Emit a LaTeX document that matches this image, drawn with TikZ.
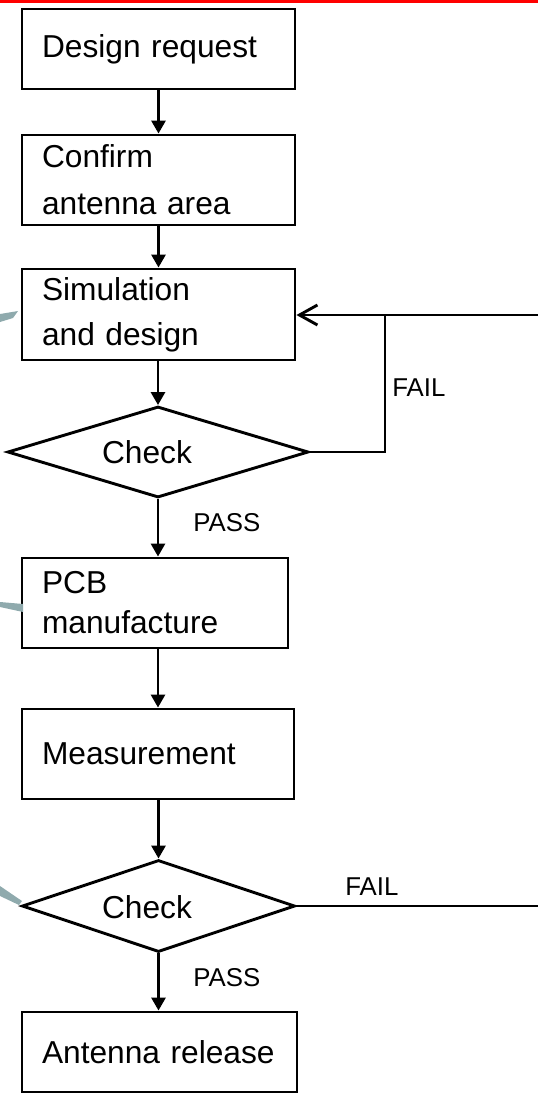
\documentclass[tikz,border=0pt]{standalone}
\usepackage{fontspec}
\setmainfont{Liberation Sans}
\usetikzlibrary{arrows.meta,shapes.geometric}
\definecolor{callout}{HTML}{8FAAAD}
\begin{document}
\begin{tikzpicture}[x=0.5pt,y=-0.5pt,
  box/.style={draw, line width=1.45pt, align=left, inner xsep=10pt, inner ysep=0pt,
              font=\fontsize{15.85}{19}\selectfont},
  dia/.style={draw, diamond, line width=1.45pt, inner sep=0pt},
  txt/.style={font=\fontsize{15.85}{19}\selectfont, inner sep=0pt},
  lbl/.style={font=\fontsize{12.9}{15}\selectfont, anchor=west, inner sep=0pt},
  ln/.style={line width=1.45pt},
  arr/.style={line width=1.45pt, -{Triangle[length=6.5pt,width=7pt]}},
  barb/.style={line width=1.45pt, -{Straight Barb[length=9pt,width=10pt]}}]
\useasboundingbox (0,0) rectangle (538,1104);
\fill[red] (0,0) rectangle (538,3);

% boxes
\node[box, text width=116.5pt, minimum height=40pt] (b1) at (158.5,49) {Design request};
\node[box, text width=116.5pt, minimum height=45pt] (b2) at (158.5,180) {Confirm\\[4.5pt]antenna area};
\node[box, text width=116.5pt, minimum height=45.5pt] (b3) at (158.5,314.5) {Simulation\\[3.5pt]and design};
\node[dia, minimum width=150.5pt, minimum height=45.5pt] (d1) at (158,452) {};
\node[txt] (c1) at (147,452) {Check};
\node[box, text width=113pt, minimum height=45pt] (b4) at (155,603) {PCB\\[1pt]manufacture};
\node[box, text width=116pt, minimum height=45pt] (b5) at (158,754) {Measurement};
\node[dia, minimum width=136.5pt, minimum height=46pt] (d2) at (158.5,906) {};
\node[txt] (c2) at (147,907) {Check};
\node[box, text width=117.5pt, minimum height=40pt] (b6) at (159.5,1052) {Antenna release};

% labels
\node[lbl] (f1) at (392,388) {FAIL};
\node[lbl] (p1) at (193,523) {PASS};
\node[lbl] (f2) at (345,887) {FAIL};
\node[lbl] (p2) at (193,978) {PASS};

% connectors
\coordinate (r1) at (538,315);
\coordinate (j1) at (385,315);
\coordinate (r2) at (538,906);
\draw[arr] (b1.south) -- (b2.north);
\draw[arr] (b2.south) -- (b3.north);
\draw[arr] (b3.south -| d1.north) -- (d1.north);
\draw[arr] (d1.south) -- (d1.south |- b4.north);
\draw[arr] (d1.south |- b4.south) -- (d1.south |- b5.north);
\draw[arr] (b5.south -| d2.north) -- (d2.north);
\draw[arr] (d2.south) -- (d2.south |- b6.north);
\draw[barb] (r1) -- (b3.east |- r1);
\draw[ln] (d1.east) -| (j1);
\draw[ln] (d2.east) -- (r2);

% cropped callout pointers at the left edge
\fill[callout] (0,314) -- (18,311) -- (13,318) -- (0,322) -- cycle;
\fill[callout] (0,602) -- (23,604) -- (23,612) -- (0,607) -- cycle;
\fill[callout] (0,886) -- (22,901) -- (19,905) -- (0,896) -- cycle;
\end{tikzpicture}
\end{document}
